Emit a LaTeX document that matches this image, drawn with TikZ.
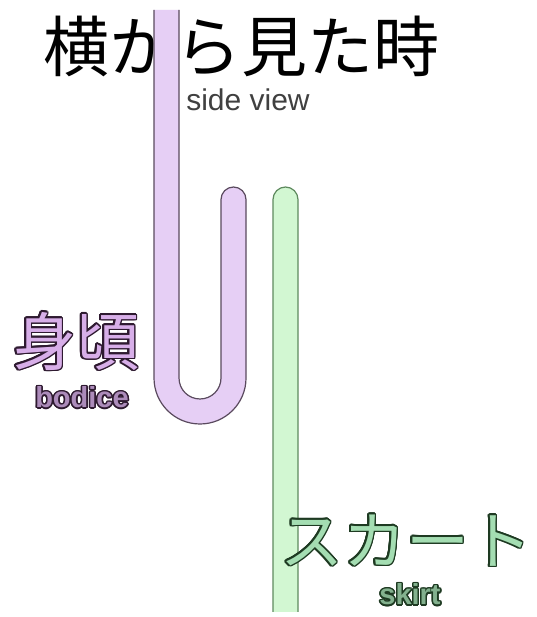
\documentclass[tikz,border=0pt]{standalone}
\usepackage{fontspec}
\setmainfont{Liberation Sans}
\newfontfamily\jpfont{Noto Sans CJK JP}
\usepackage[copies]{contour}
\usetikzlibrary{positioning}

\definecolor{bodicefill}{HTML}{E6CFF5}
\definecolor{bodiceline}{HTML}{5A4A5E}
\definecolor{skirtfill}{HTML}{D2F7D2}
\definecolor{skirtline}{HTML}{5E8A5E}
\definecolor{bodicetext}{HTML}{D7AEE8}
\definecolor{bodicedark}{HTML}{2E1A30}
\definecolor{skirttext}{HTML}{A4DDB2}
\definecolor{skirtdark}{HTML}{1E3A22}

\begin{document}
\begin{tikzpicture}[x=1pt, y=1pt,
    title/.style={font=\jpfont\fontsize{66}{70}\selectfont, inner sep=0pt},
    subtitle/.style={font=\fontsize{30}{32}\selectfont, text=black!75, inner sep=0pt},
    biglabel/.style={font=\jpfont\fontsize{63}{68}\selectfont, inner sep=0pt},
    smalllabel/.style={font=\bfseries\fontsize{29}{31}\selectfont, inner sep=0pt},
    strip/.style={line width=1.2pt, line join=round}
]
\useasboundingbox (0,0) rectangle (536,617);
\fill[white] (0,0) rectangle (536,617);

% Title
\node[title] (title) at (241,571) {横から見た時};
\node[subtitle] (side) at (248,517) {side view};

% Bodice (folded)
\fill[bodicefill] (154,607) -- (154,239) arc[start angle=180, end angle=360, radius=46]
    -- (246,417.5) arc[start angle=0, end angle=180, radius=12.5]
    -- (221,239) arc[start angle=360, end angle=180, radius=21] -- (179,607) -- cycle;
\draw[strip, bodiceline] (154,607) -- (154,239) arc[start angle=180, end angle=360, radius=46]
    -- (246,417.5) arc[start angle=0, end angle=180, radius=12.5]
    -- (221,239) arc[start angle=360, end angle=180, radius=21] -- (179,607);

% Skirt
\fill[skirtfill] (273,5) -- (273,417.5) arc[start angle=180, end angle=0, radius=12.5] -- (298,5) -- cycle;
\draw[strip, skirtline] (273,5) -- (273,417.5) arc[start angle=180, end angle=0, radius=12.5] -- (298,5);

% Labels
\contourlength{1.5pt}
\node[biglabel, text=bodicetext] (bodice) at (76,275) {\contour{bodicedark}{身頃}};
\node[smalllabel, text=bodicetext!80!black] (bodiceen) at (82,219) {\contour{bodicedark}{bodice}};
\node[biglabel, text=skirttext] (skirt) at (406,76) {\contour{skirtdark}{スカート}};
\node[smalllabel, text=skirttext!80!black] (skirten) at (410,22) {\contour{skirtdark}{skirt}};

\end{tikzpicture}
\end{document}
